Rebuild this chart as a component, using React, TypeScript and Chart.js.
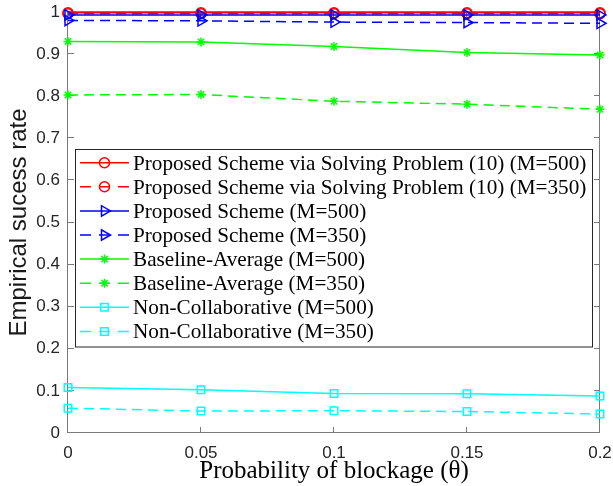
import React, { useEffect, useRef } from "react";
import { Chart, registerables } from "chart.js";

Chart.register(...registerables);

// ---- data ----
const thetas = [0, 0.05, 0.1, 0.15, 0.2];
const solvingM500 = [0.998, 0.998, 0.998, 0.998, 0.998];
const solvingM350 = [0.996, 0.996, 0.996, 0.996, 0.996];
const proposedM500 = [0.993, 0.993, 0.993, 0.993, 0.993];
const proposedM350 = [0.98, 0.979, 0.976, 0.975, 0.973];
const baselineM500 = [0.93, 0.929, 0.918, 0.904, 0.898];
const baselineM350 = [0.803, 0.804, 0.788, 0.781, 0.769];
const nonCollabM500 = [0.108, 0.103, 0.094, 0.093, 0.088];
const nonCollabM350 = [0.059, 0.052, 0.053, 0.051, 0.045];

const seriesLabels = [
  "Proposed Scheme via Solving Problem (10) (M=500)",
  "Proposed Scheme via Solving Problem (10) (M=350)",
  "Proposed Scheme (M=500)",
  "Proposed Scheme (M=350)",
  "Baseline-Average (M=500)",
  "Baseline-Average (M=350)",
  "Non-Collaborative (M=500)",
  "Non-Collaborative (M=350)",
];

const xTickValues = [0, 0.05, 0.1, 0.15, 0.2];
const xTickLabels = ["0", "0.05", "0.1", "0.15", "0.2"];
const yTickValues = [0, 0.1, 0.2, 0.3, 0.4, 0.5, 0.6, 0.7, 0.8, 0.9, 1];
const yTickLabels = ["0", "0.1", "0.2", "0.3", "0.4", "0.5", "0.6", "0.7", "0.8", "0.9", "1"];

const xTitle = "Probability of blockage (\u03B8)";
const yTitle = "Empirical sucess rate";

// ---- styles ----
const seriesValues = [
  solvingM500,
  solvingM350,
  proposedM500,
  proposedM350,
  baselineM500,
  baselineM350,
  nonCollabM500,
  nonCollabM350,
];
const seriesColors = ["#ff0000", "#ff0000", "#0000ff", "#0000ff", "#00ff00", "#00ff00", "#00ffff", "#00ffff"];
const seriesDashed = [false, true, false, true, false, true, false, true];
const seriesMarker = ["circle", "circle", "triangle", "triangle", "star", "star", "rect", "rect"];
const seriesMarkerRadius = [5, 5, 6, 6, 4.5, 4.5, 5.3, 5.3];
const seriesMarkerRotation = [0, 0, 90, 90, 0, 0, 0, 0];
const DASH = [10, 6];

const frameColor = "#7a7a7a";
const textColor = "#262626";

const framePlugin = {
  id: "frame",
  beforeDatasetsDraw(chart: any) {
    const { ctx, chartArea } = chart;
    const { left, right, top, bottom } = chartArea;
    const xs = chart.scales.x;
    const ys = chart.scales.y;
    ctx.save();
    ctx.strokeStyle = frameColor;
    ctx.lineWidth = 1;
    ctx.beginPath();
    ctx.rect(left - 0.5, top - 0.5, right - left, bottom - top);
    ctx.stroke();
    const tl = 6;
    ctx.beginPath();
    yTickValues.forEach((v) => {
      const y = Math.round(ys.getPixelForValue(v)) - 0.5;
      ctx.moveTo(left, y);
      ctx.lineTo(left + tl, y);
      ctx.moveTo(right, y);
      ctx.lineTo(right - tl, y);
    });
    xTickValues.forEach((v) => {
      const x = Math.round(xs.getPixelForValue(v)) - 0.5;
      ctx.moveTo(x, bottom);
      ctx.lineTo(x, bottom - tl);
      ctx.moveTo(x, top);
      ctx.lineTo(x, top + tl);
    });
    ctx.stroke();
    ctx.restore();
  },
};

function drawMarker(ctx: CanvasRenderingContext2D, style: string, x: number, y: number, r: number, rotDeg: number) {
  ctx.beginPath();
  if (style === "circle") {
    ctx.arc(x, y, r, 0, Math.PI * 2);
  } else if (style === "triangle") {
    let rad = (rotDeg * Math.PI) / 180;
    ctx.moveTo(x + Math.sin(rad) * r, y - Math.cos(rad) * r);
    rad += (2 * Math.PI) / 3;
    ctx.lineTo(x + Math.sin(rad) * r, y - Math.cos(rad) * r);
    rad += (2 * Math.PI) / 3;
    ctx.lineTo(x + Math.sin(rad) * r, y - Math.cos(rad) * r);
    ctx.closePath();
  } else if (style === "rect") {
    const s = Math.SQRT1_2 * r;
    ctx.rect(x - s, y - s, 2 * s, 2 * s);
  } else if (style === "star") {
    for (let k = 0; k < 4; k++) {
      const a = (k * Math.PI) / 4;
      ctx.moveTo(x - Math.cos(a) * r, y - Math.sin(a) * r);
      ctx.lineTo(x + Math.cos(a) * r, y + Math.sin(a) * r);
    }
  }
  ctx.stroke();
}

const legendPlugin = {
  id: "customLegend",
  afterDraw(chart: any) {
    const { ctx } = chart;
    const bx = 75.5,
      by = 149.5,
      bw = 517,
      bh = 197.5;
    ctx.save();
    ctx.fillStyle = "#ffffff";
    ctx.fillRect(bx, by, bw, bh);
    ctx.strokeStyle = textColor;
    ctx.lineWidth = 1;
    ctx.strokeRect(bx, by, bw, bh);
    const x0 = 80,
      x1 = 129;
    const xm = (x0 + x1) / 2;
    chart.data.datasets.forEach((ds: any, i: number) => {
      const y = 162.7 + i * 24.1;
      ctx.strokeStyle = ds.borderColor;
      ctx.lineWidth = ds.borderWidth;
      ctx.beginPath();
      if (seriesDashed[i]) {
        ctx.moveTo(x0, y);
        ctx.lineTo(x0 + 11, y);
        ctx.moveTo(xm - 5.5, y);
        ctx.lineTo(xm + 5.5, y);
        ctx.moveTo(x1 - 11, y);
        ctx.lineTo(x1, y);
      } else {
        ctx.moveTo(x0, y);
        ctx.lineTo(x1, y);
      }
      ctx.stroke();
      ctx.lineWidth = ds.pointBorderWidth;
      drawMarker(ctx, seriesMarker[i], xm, y, seriesMarkerRadius[i], seriesMarkerRotation[i]);
      ctx.fillStyle = "#000000";
      ctx.font = "21.2px 'Liberation Serif'";
      ctx.textBaseline = "alphabetic";
      ctx.textAlign = "left";
      ctx.fillText(ds.label, 133, y + 7);
    });
    ctx.restore();
  },
};

export default function App() {
  const canvasRef = useRef<HTMLCanvasElement | null>(null);

  useEffect(() => {
    const canvas = canvasRef.current;
    if (!canvas) return;
    const n = seriesLabels.length;
    const datasets = seriesLabels.map((label, i) => ({
      label,
      data: thetas.map((x, j) => ({ x, y: seriesValues[i][j] })),
      borderColor: seriesColors[i],
      backgroundColor: "rgba(0,0,0,0)",
      borderWidth: 1.5,
      borderDash: seriesDashed[i] ? DASH : [],
      pointStyle: seriesMarker[i],
      pointRadius: seriesMarkerRadius[i],
      pointRotation: seriesMarkerRotation[i],
      pointBorderColor: seriesColors[i],
      pointBackgroundColor: "rgba(0,0,0,0)",
      pointBorderWidth: 1.5,
      fill: false,
      tension: 0,
      clip: false as any,
      order: n - i,
    }));

    const chart = new Chart(canvas, {
      type: "line",
      data: { datasets },
      options: {
        animation: false,
        responsive: false,
        maintainAspectRatio: false,
        events: [],
        layout: { padding: { top: 12, right: 13, left: 0, bottom: 0 } },
        plugins: {
          legend: { display: false },
          tooltip: { enabled: false },
        },
        scales: {
          x: {
            type: "linear",
            min: 0,
            max: 0.2,
            grid: { display: false, drawTicks: false },
            border: { display: false },
            afterBuildTicks: (s: any) => {
              s.ticks = xTickValues.map((v) => ({ value: v }));
            },
            afterFit: (s: any) => {
              s.height = 53;
              s.paddingLeft = 0;
              s.paddingRight = 0;
              s.paddingTop = 0;
              s.paddingBottom = 0;
            },
            ticks: {
              autoSkip: false,
              maxRotation: 0,
              padding: 10,
              color: textColor,
              font: { family: "'Liberation Sans'", size: 17 },
              callback: (_v: any, i: number) => xTickLabels[i],
            },
            title: {
              display: true,
              text: xTitle,
              color: "#000000",
              font: { family: "'Liberation Serif'", size: 25 },
              padding: { top: 0, bottom: 0 },
            },
          },
          y: {
            type: "linear",
            min: 0,
            max: 1,
            grid: { display: false, drawTicks: false },
            border: { display: false },
            afterBuildTicks: (s: any) => {
              s.ticks = yTickValues.map((v) => ({ value: v }));
            },
            afterFit: (s: any) => {
              s.width = 68;
              s.paddingLeft = 0;
              s.paddingRight = 0;
              s.paddingTop = 0;
              s.paddingBottom = 0;
            },
            ticks: {
              autoSkip: false,
              padding: 8,
              color: textColor,
              font: { family: "'Liberation Sans'", size: 17 },
              callback: (_v: any, i: number) => yTickLabels[i],
            },
            title: {
              display: true,
              text: yTitle,
              color: "#1a1a1a",
              font: { family: "'Liberation Sans'", size: 24 },
              padding: { top: 5, bottom: 0 },
            },
          },
        },
      },
      plugins: [framePlugin, legendPlugin],
    });
    return () => chart.destroy();
  }, []);

  return (
    <div style={{ position: "absolute", left: 0, top: 0, width: 613, height: 486, background: "#fff" }}>
      <canvas ref={canvasRef} width={613} height={486} style={{ display: "block", width: 613, height: 486 }} />
    </div>
  );
}
